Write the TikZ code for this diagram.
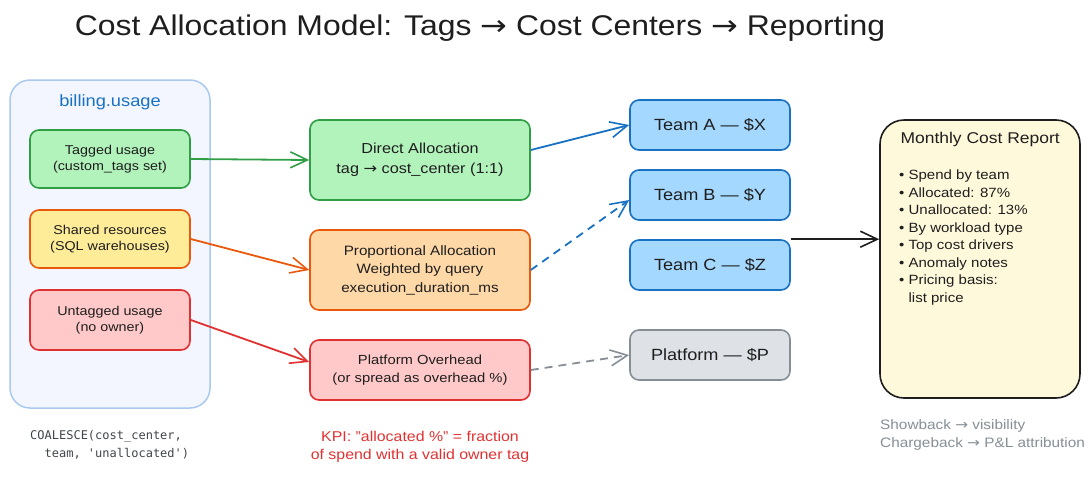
\documentclass[tikz,border=0pt]{standalone}
\usepackage{fontspec}
\setmainfont[FakeStretch=1.12]{Liberation Sans}
\newfontfamily\arr[FakeStretch=1.12]{DejaVu Sans}
\newfontfamily\monof{DejaVu Sans Mono}
\usetikzlibrary{arrows.meta,calc}
\definecolor{ink}{HTML}{1E1E1E}
\definecolor{contfill}{HTML}{F3F6FE}
\definecolor{contdraw}{HTML}{A9CAEE}
\definecolor{grfill}{HTML}{B2F2BB}
\definecolor{grdraw}{HTML}{2F9E44}
\definecolor{yefill}{HTML}{FFEC99}
\definecolor{ordraw}{HTML}{E8590C}
\definecolor{orfill}{HTML}{FFD8A8}
\definecolor{refill}{HTML}{FFC9C9}
\definecolor{redraw}{HTML}{E03131}
\definecolor{blfill}{HTML}{A5D8FF}
\definecolor{bldraw}{HTML}{1971C2}
\definecolor{gyfill}{HTML}{DEE2E6}
\definecolor{gydraw}{HTML}{868E96}
\definecolor{rpfill}{HTML}{FFF9DB}
\definecolor{monocol}{HTML}{3F454B}
\newcommand{\ra}{{\arr\char"2192}}
\begin{document}
\begin{tikzpicture}[x=1pt,y=-1pt,
  box/.style={draw, rounded corners=9pt, line width=1.6pt, align=center, inner sep=0pt, text=ink},
  conn/.style={line width=1.8pt, -{Straight Barb[length=17pt,width=16pt,line width=1.6pt]}},
  fs12/.style={font=\fontsize{12.8}{16.5}\selectfont},
  fs13/.style={font=\fontsize{13.6}{18.5}\selectfont},
  fs15/.style={font=\fontsize{14.5}{20}\selectfont},
  fs16/.style={font=\fontsize{16.2}{20}\selectfont}
]
\useasboundingbox (0,0) rectangle (1090,480);
% title
\node[text=ink, font=\fontsize{28.5}{32}\selectfont] (title) at (480,28) {Cost Allocation Model: Tags \ra{} Cost Centers \ra{} Reporting};
% container
\node[draw=contdraw, fill=contfill, line width=1.5pt, rounded corners=20pt, minimum width=200pt, minimum height=328pt] (src) at (110,244) {};
\node[text=bldraw, font=\fontsize{16.3}{18}\selectfont] (srclabel) at (110,102) {billing.usage};
% sources
\node[box, fs12, fill=grfill, draw=grdraw, minimum width=160pt, minimum height=58pt] (tagged) at (110,159) {Tagged usage\\(custom\_tags set)};
\node[box, fs12, fill=yefill, draw=ordraw, minimum width=160pt, minimum height=58pt] (shared) at (110,239) {Shared resources\\(SQL warehouses)};
\node[box, fs12, fill=refill, draw=redraw, minimum width=160pt, minimum height=60pt] (untag) at (110,320) {Untagged usage\\(no owner)};
% allocation
\node[box, fs15, fill=grfill, draw=grdraw, minimum width=220pt, minimum height=80pt] (direct) at (420,160) {Direct Allocation\\tag \ra{} cost\_center (1:1)};
\node[box, fs13, fill=orfill, draw=ordraw, minimum width=220pt, minimum height=80pt] (prop) at (420,270) {Proportional Allocation\\Weighted by query\\execution\_duration\_ms};
\node[box, font=\fontsize{13.2}{18}\selectfont, fill=refill, draw=redraw, minimum width=220pt, minimum height=60pt] (plat) at (420,370) {Platform Overhead\\(or spread as overhead \%)};
% teams
\node[box, fs16, fill=blfill, draw=bldraw, minimum width=160pt, minimum height=50pt] (teamA) at (710,125) {Team A — \$X};
\node[box, fs16, fill=blfill, draw=bldraw, minimum width=160pt, minimum height=50pt] (teamB) at (710,195) {Team B — \$Y};
\node[box, fs16, fill=blfill, draw=bldraw, minimum width=160pt, minimum height=50pt] (teamC) at (710,265) {Team C — \$Z};
\node[box, fs16, fill=gyfill, draw=gydraw, minimum width=160pt, minimum height=50pt] (platform) at (710,355) {Platform — \$P};
% report
\node[box, rounded corners=24pt, fill=rpfill, draw=ink, minimum width=200pt, minimum height=278pt] (report) at (980,259) {};
\node[anchor=west, text=ink, font=\fontsize{15.6}{18}\selectfont] (rtitle) at (897,139) {Monthly Cost Report};
\node[anchor=north west, align=left, text=ink, inner sep=0pt, font=\fontsize{13.4}{17.5}\selectfont] (rlist) at (899,170) {%
\textbullet\ Spend by team\\
\textbullet\ Allocated: 87\%\\
\textbullet\ Unallocated: 13\%\\
\textbullet\ By workload type\\
\textbullet\ Top cost drivers\\
\textbullet\ Anomaly notes\\
\textbullet\ Pricing basis:\\
\hphantom{\textbullet\ }list price};
% notes
\node[anchor=north west, align=left, inner sep=0pt, text=monocol, font=\monof\fontsize{12}{18}\selectfont] (coal) at (30,430) {COALESCE(cost\_center,\\\ \ team, 'unallocated')};
\node[align=center, text=redraw, font=\fontsize{14.2}{18}\selectfont] (kpi) at (420,447) {KPI: "allocated \%" = fraction\\of spend with a valid owner tag};
\node[anchor=north west, align=left, inner sep=0pt, text=gydraw, font=\fontsize{13.7}{18}\selectfont] (show) at (880,419) {Showback \ra{} visibility\\Chargeback \ra{} P\&L attribution};
% connectors
\draw[conn, draw=grdraw] (tagged.east) -- (direct.west);
\draw[conn, draw=ordraw] (shared.east) -- (prop.west);
\draw[conn, draw=redraw] (untag.east) -- ($(plat.west)+(0,-8)$);
\draw[conn, draw=bldraw] ($(direct.east)+(0,-10)$) -- (teamA.west);
\draw[conn, draw=bldraw, dash pattern=on 8pt off 6pt] (prop.east) -- ($(teamB.west)+(0,5)$);
\draw[conn, draw=gydraw, dash pattern=on 8pt off 6pt] (plat.east) -- (platform.west);
\draw[conn, draw=ink] (teamC.north east) -- (report.west |- teamC.north east);
\end{tikzpicture}
\end{document}
